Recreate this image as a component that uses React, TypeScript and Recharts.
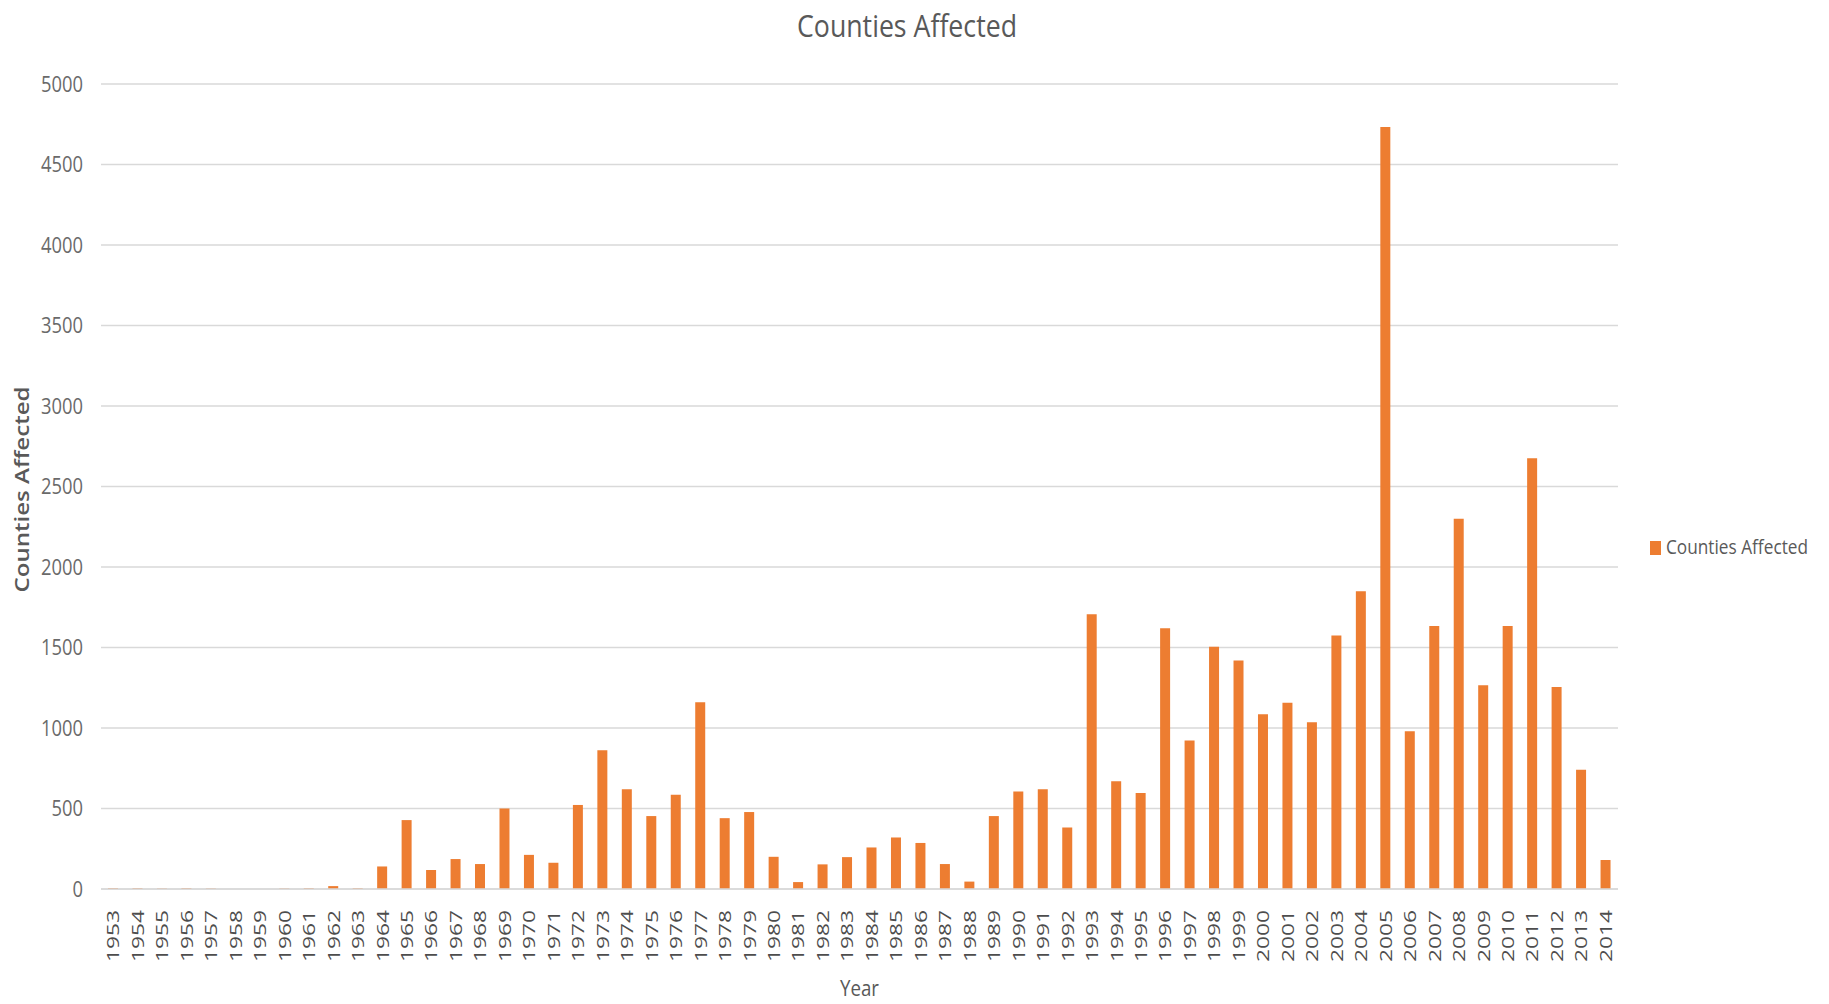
import React from "react";
import {
  BarChart,
  Bar,
  XAxis,
  YAxis,
  CartesianGrid,
  Legend,
  Label,
} from "recharts";

const years = [
  "1953", "1954", "1955", "1956", "1957", "1958", "1959", "1960", "1961", "1962",
  "1963", "1964", "1965", "1966", "1967", "1968", "1969", "1970", "1971", "1972",
  "1973", "1974", "1975", "1976", "1977", "1978", "1979", "1980", "1981", "1982",
  "1983", "1984", "1985", "1986", "1987", "1988", "1989", "1990", "1991", "1992",
  "1993", "1994", "1995", "1996", "1997", "1998", "1999", "2000", "2001", "2002",
  "2003", "2004", "2005", "2006", "2007", "2008", "2009", "2010", "2011", "2012",
  "2013", "2014",
];

const countiesAffected = [
  5, 5, 3, 5, 3, 0, 0, 3, 5, 18,
  5, 140, 428, 118, 186, 155, 500, 212, 163, 522,
  862, 620, 453, 585, 1160, 440, 478, 200, 43, 153,
  198, 258, 320, 286, 155, 46, 453, 606, 620, 382,
  1706, 670, 597, 1620, 922, 1505, 1420, 1086, 1157, 1036,
  1575, 1850, 4733, 980, 1633, 2300, 1265, 1633, 2676, 1255,
  740, 180,
];

const yTicks = [0, 500, 1000, 1500, 2000, 2500, 3000, 3500, 4000, 4500, 5000];

const seriesName = "Counties Affected";
const chartTitle = "Counties Affected";
const xTitle = "Year";
const yTitle = "Counties Affected";

const data = years.map((year, i) => ({ year, counties: countiesAffected[i] }));

const ORANGE = "#ED7D31";
const TEXT = "#595959";
const GRID = "#d9d9d9";
const FONT = "'Open Sans', 'DejaVu Sans', sans-serif";

const YearTick = ({ x, y, payload }: any) => (
  <g transform={`translate(${x},${y})`}>
    <text
      transform="rotate(-90)"
      textAnchor="end"
      dy="0.36em"
      fontSize={17}
      fontFamily={FONT}
      fill="#4d4d4d"
      textLength={52}
      lengthAdjust="spacingAndGlyphs"
    >
      {payload.value}
    </text>
  </g>
);

const ValueTick = ({ x, y, payload }: any) => {
  const s = String(payload.value);
  return (
    <text
      x={x}
      y={y}
      dy="0.36em"
      textAnchor="end"
      fontSize={21}
      fontFamily={FONT}
      fill="#6a6a6a"
      textLength={s.length * 10.5}
      lengthAdjust="spacingAndGlyphs"
    >
      {s}
    </text>
  );
};

// legend drawn as a small svg so the label can be squeezed like the axis text
const LegendBox = () => (
  <svg width={180} height={30} style={{ overflow: "visible" }}>
    <rect x={4} y={8} width={11} height={14} fill={ORANGE} />
    <text
      x={20}
      y={21}
      fontSize={20}
      fontFamily={FONT}
      fill={TEXT}
      textLength={142}
      lengthAdjust="spacingAndGlyphs"
    >
      {seriesName}
    </text>
  </svg>
);

export default function App() {
  return (
    <div style={{ position: "absolute", left: 0, top: 0, width: 1829, height: 1004, background: "#fff" }}>
      <svg width={1829} height={60} style={{ position: "absolute", left: 0, top: 0 }}>
        <text
          x={907}
          y={37}
          textAnchor="middle"
          fontSize={31}
          fontFamily={FONT}
          fill={TEXT}
          textLength={220}
          lengthAdjust="spacingAndGlyphs"
        >
          {chartTitle}
        </text>
      </svg>
      <BarChart
        width={1829}
        height={1004}
        data={data}
        margin={{ top: 84, right: 211, left: 0, bottom: 0 }}
        barSize={10}
      >
        <CartesianGrid vertical={false} stroke={GRID} strokeWidth={1.5} />
        <XAxis
          dataKey="year"
          height={115}
          interval={0}
          tick={<YearTick />}
          tickLine={false}
          tickSize={0}
          tickMargin={21}
          axisLine={{ stroke: GRID, strokeWidth: 1.5 }}
        >
          <Label
            content={({ viewBox }: any) => (
              <text
                x={viewBox.x + viewBox.width / 2}
                y={viewBox.y + viewBox.height - 8}
                textAnchor="middle"
                fontSize={22}
                fontFamily={FONT}
                fill={TEXT}
                textLength={39}
                lengthAdjust="spacingAndGlyphs"
              >
                {xTitle}
              </text>
            )}
          />
        </XAxis>
        <YAxis
          width={101}
          domain={[0, 5000]}
          ticks={yTicks}
          interval={0}
          tick={<ValueTick />}
          tickLine={false}
          tickSize={0}
          tickMargin={18}
          axisLine={false}
        >
          <Label
            content={({ viewBox }: any) => {
              const cx = 22;
              const cy = viewBox.y + viewBox.height / 2 + 3;
              return (
                <text
                  transform={`translate(${cx},${cy}) rotate(-90)`}
                  textAnchor="middle"
                  dy="0.36em"
                  fontSize={20}
                  fontWeight={600}
                  fontFamily={FONT}
                  fill={TEXT}
                  textLength={206}
                  lengthAdjust="spacingAndGlyphs"
                >
                  {yTitle}
                </text>
              );
            }}
          />
        </YAxis>
        <Legend
          layout="horizontal"
          verticalAlign="middle"
          align="center"
          content={<LegendBox />}
          wrapperStyle={{ left: 1646, top: 533, width: 180, height: 30 }}
        />
        <Bar dataKey="counties" name={seriesName} fill={ORANGE} isAnimationActive={false} />
      </BarChart>
    </div>
  );
}
